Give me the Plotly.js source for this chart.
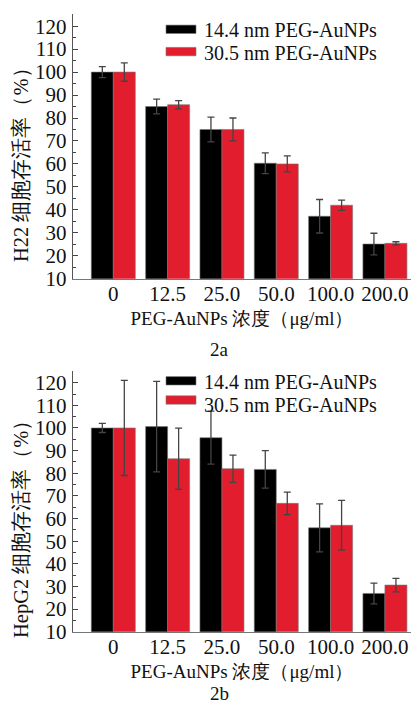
<!DOCTYPE html>
<html>
<head>
<meta charset="utf-8">
<script src="https://cdn.plot.ly/plotly-3.0.1.min.js"></script>
<style>html,body{margin:0;padding:0;background:#fff;}#chart{width:411px;height:703px;}</style>
</head>
<body>
<div id="chart"></div>
<script>
// Data
const categories = ["0", "12.5", "25.0", "50.0", "100.0", "200.0"];
const seriesNames = ["14.4 nm PEG-AuNPs", "30.5 nm PEG-AuNPs"];
// Panel 2a: H22 cells
const h22_small = [100, 85, 75, 60.3, 37.2, 25.1];
const h22_small_err = [2.4, 3.2, 5.4, 4.5, 7.3, 4.7];
const h22_large = [100, 85.8, 75, 60, 42, 25.4];
const h22_large_err = [4, 1.8, 5, 3.5, 2.2, 0.7];
// Panel 2b: HepG2 cells
const hep_small = [100, 100.6, 95.7, 81.7, 55.9, 26.9];
const hep_small_err = [2, 20, 11.7, 8.3, 10.6, 4.6];
const hep_large = [100, 86.4, 82, 66.7, 57, 30.6];
const hep_large_err = [21, 13.5, 6, 5, 11, 3];
const panelLabels = ["2a", "2b"];
const yTitles = ["H22 细胞存活率（%）", "HepG2 细胞存活率（%）"];
const xTitle = "PEG-AuNPs 浓度（μg/ml）";

const colors = ["#000000", "#e11d2e"];
const font = "Liberation Serif, Times New Roman, serif";

function bar(y, err, idx, xa, ya) {
  return {
    type: "bar", x: categories, y: y, name: seriesNames[idx],
    xaxis: xa, yaxis: ya, showlegend: false,
    marker: {color: colors[idx], line: {color: "#777", width: 0.6}},
    error_y: {type: "data", array: err, visible: true, color: "#444", thickness: 1.3, width: 3.5}
  };
}

const data = [
  bar(h22_small, h22_small_err, 0, "x", "y"),
  bar(h22_large, h22_large_err, 1, "x", "y"),
  bar(hep_small, hep_small_err, 0, "x2", "y2"),
  bar(hep_large, hep_large_err, 1, "x2", "y2")
];

function yax(domain) {
  return {
    domain: domain, range: [10, 125.3], tickmode: "array",
    tickvals: [10,20,30,40,50,60,70,80,90,100,110,120],
    ticks: "inside", ticklen: 5, tickwidth: 1, tickcolor: "#444",
    minor: {dtick: 5, ticks: "inside", ticklen: 3, tickcolor: "#444", showgrid: false},
    showline: true, linecolor: "#555", linewidth: 1.2, showgrid: false, zeroline: false,
    tickfont: {family: font, size: 21, color: "#111"}, ticklabelstandoff: 1,
    fixedrange: true
  };
}
function xax(anchor) {
  return {
    anchor: anchor, domain: [0, 1], range: [-0.742, 5.48], type: "category",
    showline: true, linecolor: "#777", linewidth: 1.2, ticks: "", showgrid: false,
    tickfont: {family: font, size: 21, color: "#111"}, ticklabelstandoff: -4,
    title: {text: xTitle, font: {family: font, size: 19, color: "#111"}, standoff: 6}
  };
}

const dTop = [1 - 278.7/703, 1 - 14/703];
const dBot = [1 - 631.7/703, 1 - 370.7/703];

const layout = {
  width: 411, height: 703,
  margin: {l: 73, r: 0, t: 0, b: 0},
  paper_bgcolor: "#fff", plot_bgcolor: "#fff",
  barmode: "group", bargap: 0.19, bargroupgap: 0,
  showlegend: false,
  font: {family: font, color: "#111"},
  xaxis: xax("y"),
  yaxis: yax(dTop),
  xaxis2: xax("y2"),
  yaxis2: yax(dBot),
  shapes: [], annotations: []
};

// legends (swatches + labels) and panel labels
const px = v => (v - 73) / 338;
const py = v => 1 - v / 703;
const legendRows = [[29.3, 51.6], [380.8, 400]];
const legendText = [[30, 53], [381.7, 405]];
for (let p = 0; p < 2; p++) {
  for (let s = 0; s < 2; s++) {
    const yc = legendRows[p][s];
    layout.shapes.push({type: "rect", xref: "paper", yref: "paper",
      x0: px(166), x1: px(196), y0: py(yc + 4.2), y1: py(yc - 4.2),
      fillcolor: colors[s], line: {color: "#777", width: 0.6}});
    layout.annotations.push({xref: "paper", yref: "paper", x: px(202), y: py(legendText[p][s]),
      xanchor: "left", yanchor: "middle", showarrow: false, text: seriesNames[s],
      font: {family: font, size: 20, color: "#111"}});
  }
  layout.annotations.push({xref: "paper", yref: "paper", x: px(219), y: py(p === 0 ? 349 : 693),
    xanchor: "center", yanchor: "middle", showarrow: false, text: panelLabels[p],
    font: {family: font, size: 19, color: "#111"}});
  layout.annotations.push({xref: "paper", yref: "paper", x: px(21), y: py(p === 0 ? 160 : 524),
    xanchor: "center", yanchor: "middle", showarrow: false, text: yTitles[p], textangle: -90,
    font: {family: font, size: 20.5, color: "#111"}});
}

Plotly.newPlot("chart", data, layout, {displayModeBar: false, staticPlot: true});
</script>
</body>
</html>
